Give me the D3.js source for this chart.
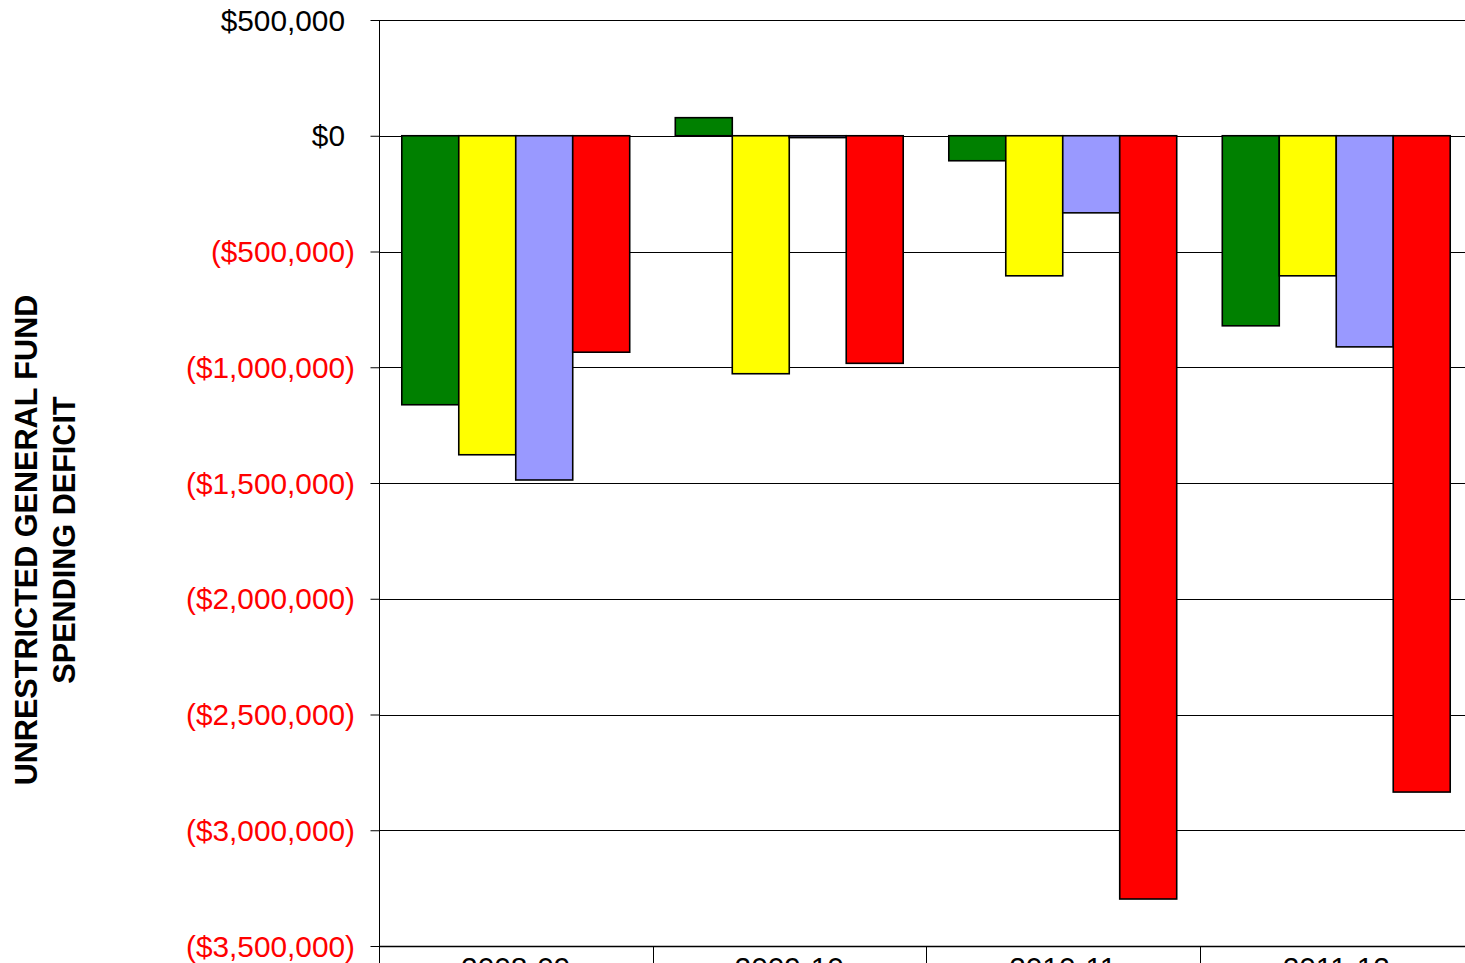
<!DOCTYPE html>
<html>
<head>
<meta charset="utf-8">
<script src="https://cdn.jsdelivr.net/npm/d3@7"></script>
<style>
  html, body { margin: 0; padding: 0; background: #fff; overflow: hidden; }
  svg { display: block; font-family: "Liberation Sans", Arial, sans-serif; }
</style>
</head>
<body>
<svg id="chart" width="1465" height="963"></svg>
<script>
const categories = ["2008-09", "2009-10", "2010-11", "2011-12"];
const seriesNames = ["s1", "s2", "s3", "s4"];
const seriesColors = ["#008000", "#FFFF00", "#9999FF", "#FF0000"];
const series1 = [-1162000, 78000, -108000, -821000];
const series2 = [-1378000, -1028000, -605000, -605000];
const series3 = [-1487000, -8000, -333000, -912000];
const series4 = [-935000, -983000, -3297000, -2835000];
const tickValues = [500000, 0, -500000, -1000000, -1500000, -2000000, -2500000, -3000000, -3500000];
const axisTitle = ["UNRESTRICTED GENERAL FUND", "SPENDING DEFICIT"];

const allSeries = [series1, series2, series3, series4];
const svg = d3.select("#chart");

const pLeft = 379, pRight = 1473, pTop = 20, pBottom = 946;

const y = d3.scaleLinear().domain([-3500000, 500000]).range([pBottom, pTop]);
const x0 = d3.scaleBand().domain(categories).range([pLeft, pRight]).paddingInner(0).paddingOuter(0);
const x1 = d3.scaleBand().domain(seriesNames).range([0, x0.bandwidth()]).paddingInner(0).paddingOuter(0.4);

// gridlines
svg.append("g").selectAll("line").data(tickValues).join("line")
  .attr("x1", pLeft).attr("x2", pRight)
  .attr("y1", d => Math.round(y(d)) + 0.5).attr("y2", d => Math.round(y(d)) + 0.5)
  .attr("stroke", "#000").attr("stroke-width", 1);

// bars
const g = svg.append("g");
categories.forEach((c, ci) => {
  allSeries.forEach((s, si) => {
    const v = s[ci];
    const y0 = y(0), yv = y(v);
    g.append("rect")
      .attr("x", x0(c) + x1(seriesNames[si]))
      .attr("y", Math.min(y0, yv))
      .attr("width", x1.bandwidth())
      .attr("height", Math.abs(yv - y0))
      .attr("fill", seriesColors[si])
      .attr("stroke", "#000")
      .attr("stroke-width", 1.6);
  });
});

// y axis
const yAxis = d3.axisLeft(y).tickValues(tickValues).tickSize(9).tickFormat("");
const ya = svg.append("g").attr("transform", `translate(${pLeft + 0.5},0)`).call(yAxis);
ya.select(".domain").remove();
ya.selectAll(".tick line").attr("stroke", "#000");
svg.append("line").attr("x1", pLeft + 0.5).attr("x2", pLeft + 0.5).attr("y1", pTop).attr("y2", 963)
  .attr("stroke", "#000").attr("stroke-width", 1);

// tick labels
svg.append("g").selectAll("text").data(tickValues).join("text")
  .attr("x", d => d < 0 ? 355 : 345)
  .attr("y", d => y(d))
  .attr("dy", "0.36em")
  .attr("text-anchor", "end")
  .attr("font-size", "29.8px")
  .attr("fill", d => d < 0 ? "#FF0000" : "#000")
  .text(d => {
    const s = "$" + d3.format(",")(Math.abs(d));
    return d < 0 ? "(" + s + ")" : s;
  });

// x axis
svg.append("line").attr("x1", pLeft).attr("x2", pRight).attr("y1", pBottom + 0.5).attr("y2", pBottom + 0.5)
  .attr("stroke", "#000").attr("stroke-width", 1.5);
const bounds = categories.map(c => x0(c)).concat([pRight]);
svg.append("g").selectAll("line").data(bounds).join("line")
  .attr("x1", d => Math.round(d) + 0.5).attr("x2", d => Math.round(d) + 0.5)
  .attr("y1", pBottom).attr("y2", 963)
  .attr("stroke", "#000");
svg.append("g").selectAll("text").data(categories).join("text")
  .attr("x", d => x0(d) + x0.bandwidth() / 2)
  .attr("y", 978)
  .attr("text-anchor", "middle")
  .attr("font-size", "29.8px")
  .attr("fill", "#000")
  .text(d => d);

// y axis title
const t = svg.append("text")
  .attr("transform", "translate(44,540) rotate(-90)")
  .attr("text-anchor", "middle")
  .attr("font-size", "30.6px")
  .attr("font-weight", "bold")
  .attr("fill", "#000");
t.append("tspan").attr("x", 0).attr("y", -7).text(axisTitle[0]);
t.append("tspan").attr("x", 0).attr("y", 31).text(axisTitle[1]);
</script>
</body>
</html>
